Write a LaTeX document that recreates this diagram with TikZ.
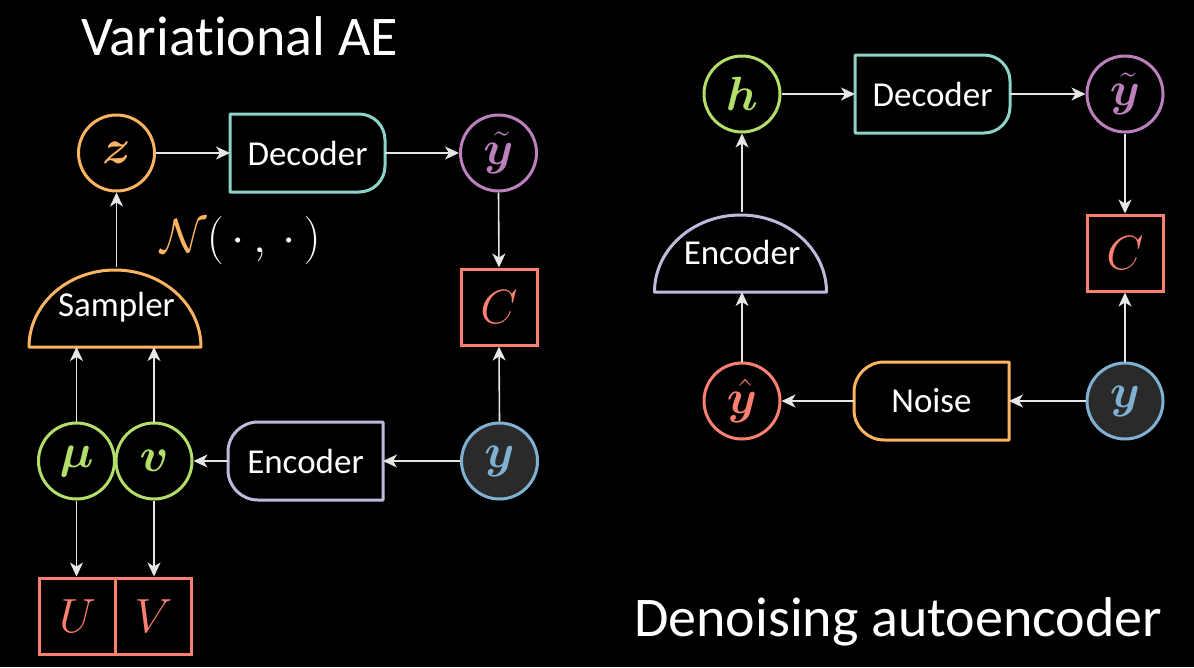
\documentclass[tikz,border=0pt]{standalone}
\usepackage{fix-cm}
\usepackage{amsmath,bm}
\usepackage{fontspec}
\setmainfont{Carlito}[Ligatures=NoCommon]
\usetikzlibrary{arrows.meta,calc}
\definecolor{cteal}{HTML}{8DD3C7}
\definecolor{clav}{HTML}{BEBADA}
\definecolor{cred}{HTML}{FB8072}
\definecolor{cblue}{HTML}{80B1D3}
\definecolor{corange}{HTML}{FDB462}
\definecolor{cgreen}{HTML}{B3DE69}
\definecolor{cpurple}{HTML}{BC80BD}
\definecolor{cgray}{HTML}{E6E6E6}
\definecolor{cdark}{HTML}{2A2A2A}
\newcommand\mathsz{\fontsize{48}{56}\selectfont}
\newcommand\boxsz{\fontsize{35}{42}\selectfont}
\newcommand\titlesz{\fontsize{56}{66}\selectfont}
\tikzset{
 every node/.style={text=white, inner sep=0pt},
 circ/.style={circle, draw=#1, line width=3pt, minimum size=76pt, font=\mathsz},
 sqbox/.style={rectangle, draw=#1, line width=3pt, minimum width=76pt, minimum height=76pt, font=\mathsz},
 blk/.style={rectangle, minimum width=152pt, minimum height=75pt, outer sep=1.5pt, font=\boxsz},
 dome/.style={rectangle, minimum width=172pt, minimum height=77pt, outer sep=1.5pt, font=\boxsz},
 outl/.style={draw=#1, line width=3pt, line join=round},
 arr/.style={draw=cgray, line width=1.6pt, -{Stealth[length=14pt,width=13pt,inset=4pt]}},
 ttl/.style={anchor=base west, font=\titlesz},
}
\begin{document}
\begin{tikzpicture}[x=1pt,y=-1pt]
\path[use as bounding box, fill=black] (0,0) rectangle (1194,667);

% titles
\node[ttl] (t1) at (81,55) {Variational AE};
\node[ttl] (t2) at (634,636) {Denoising autoencoder};

% ---------- Variational AE ----------
\node[circ=corange, text=corange] (z) at (116.5,153) {$\bm{z}$};
\node[blk] (decL) at (307.5,153) {Decoder};
\draw[outl=cteal] (decL.south west) -- (decL.north west) -- ([xshift=-26pt]decL.north east)
  arc[start angle=90, end angle=0, radius=26pt] -- ([yshift=26pt]decL.south east)
  arc[start angle=0, end angle=-90, radius=26pt] -- cycle;
\node[circ=cpurple, text=cpurple] (ytL) at (498.5,153) {$\bm{\tilde{y}}$};
\node[sqbox=cred, text=cred] (CL) at (499,307) {$C$};
\node[font=\mathsz] (N) at (240.5,240) {$\textcolor{corange}{\mathcal{N}}(\,\cdot\,,\,\cdot\,)$};
\node[dome] (samp) at (116.5,307) {Sampler};
\draw[outl=corange] (samp.south west) arc[start angle=180, end angle=0, x radius=86pt, y radius=77pt] -- cycle;
\node[circ=cgreen, text=cgreen] (mu) at (76.5,461) {$\bm{\mu}$};
\node[circ=cgreen, text=cgreen] (v) at (154,461) {$\bm{v}$};
\node[blk] (encL) at (305.5,461) {Encoder};
\draw[outl=clav] (encL.north east) -- (encL.south east) -- ([xshift=30pt]encL.south west)
  arc[start angle=270, end angle=180, radius=30pt] -- ([yshift=-30pt]encL.north west)
  arc[start angle=180, end angle=90, radius=30pt] -- cycle;
\node[circ=cblue, fill=cdark, text=cblue] (yL) at (499.5,461) {$\bm{y}$};
\node[sqbox=cred, text=cred] (U) at (77.5,616) {$U$};
\node[sqbox=cred, text=cred] (V) at (153.5,616) {$V$};

\draw[arr] (z.east) -- (decL.west);
\draw[arr] (decL.east) -- (ytL.west);
\draw[arr] (ytL.south) -- (CL.north);
\draw[arr] (yL.north) -- (CL.south);
\draw[arr] (yL.west) -- (encL.east);
\draw[arr] (encL.west) -- (v.east);
\draw[arr] (mu.north) -- (mu.north |- samp.south);
\draw[arr] (v.north) -- (v.north |- samp.south);
\draw[arr] (samp.north) -- (z.south);
\draw[arr] (mu.south) -- (mu.south |- U.north);
\draw[arr] (v.south) -- (v.south |- V.north);

% ---------- Denoising autoencoder ----------
\node[circ=cgreen, text=cgreen] (h) at (742,94) {$\bm{h}$};
\node[blk] (decR) at (932.5,94) {Decoder};
\draw[outl=cteal] (decR.south west) -- (decR.north west) -- ([xshift=-26pt]decR.north east)
  arc[start angle=90, end angle=0, radius=26pt] -- ([yshift=26pt]decR.south east)
  arc[start angle=0, end angle=-90, radius=26pt] -- cycle;
\node[circ=cpurple, text=cpurple] (ytR) at (1125,94) {$\bm{\tilde{y}}$};
\node[sqbox=cred, text=cred] (CR) at (1125,253) {$C$};
\node[dome] (encR) at (742,252) {Encoder};
\draw[outl=clav] (encR.south west) arc[start angle=180, end angle=0, x radius=86pt, y radius=77pt] -- cycle;
\node[circ=cred, text=cred] (yh) at (742,401) {$\bm{\hat{y}}$};
\node[blk] (noise) at (931.5,401) {Noise};
\draw[outl=corange] (noise.north east) -- (noise.south east) -- ([xshift=30pt]noise.south west)
  arc[start angle=270, end angle=180, radius=30pt] -- ([yshift=-30pt]noise.north west)
  arc[start angle=180, end angle=90, radius=30pt] -- cycle;
\node[circ=cblue, fill=cdark, text=cblue] (yR) at (1125,401) {$\bm{y}$};

\draw[arr] (h.east) -- (decR.west);
\draw[arr] (decR.east) -- (ytR.west);
\draw[arr] (ytR.south) -- (CR.north);
\draw[arr] (yR.north) -- (CR.south);
\draw[arr] (yR.west) -- (noise.east);
\draw[arr] (noise.west) -- (yh.east);
\draw[arr] (yh.north) -- (encR.south);
\draw[arr] (encR.north) -- (h.south);
\end{tikzpicture}
\end{document}
